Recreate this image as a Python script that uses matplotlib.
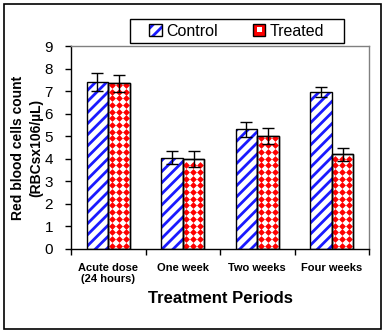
import matplotlib
matplotlib.use("Agg")
import matplotlib.pyplot as plt
import numpy as np
from matplotlib.patches import Rectangle, Patch
from matplotlib.legend_handler import HandlerPatch

categories = ["Acute dose\n(24 hours)", "One week", "Two weeks", "Four weeks"]
control = [7.42, 4.05, 5.3, 6.95]
control_err = [0.4, 0.3, 0.35, 0.22]
treated = [7.35, 4.0, 5.0, 4.2]
treated_err = [0.37, 0.35, 0.35, 0.3]
yticks = [0, 1, 2, 3, 4, 5, 6, 7, 8, 9]

plt.rcParams['font.family'] = ['Liberation Sans', 'DejaVu Sans']
plt.rcParams['hatch.linewidth'] = 2.0

W, H = 387, 334
fig = plt.figure(figsize=(W / 100, H / 100), dpi=100)
ax = fig.add_axes([71 / W, 1 - 249 / H, (369 - 71) / W, (249 - 46) / H])

x = np.arange(len(categories))
bw = 0.29

# Control bars: blue diagonal stripes
ax.bar(x - bw / 2, control, bw, color='white', edgecolor='#1a1aff', hatch='///', linewidth=0, zorder=2)
ax.bar(x - bw / 2, control, bw, color='none', edgecolor='black', linewidth=1.0, zorder=3)

# Treated bars: red diamonds on white
tbars = ax.bar(x + bw / 2, treated, bw, color='white', edgecolor='black', linewidth=1.0, zorder=2)

xs_per_px = 4.0 / (369 - 71)
ys_per_px = 9.0 / (249 - 46)
dx = 7.0 * xs_per_px
dy = 6.7 * ys_per_px
for rect, val in zip(tbars.patches, treated):
    x0 = rect.get_x()
    xs = np.arange(x0 + dx / 2, x0 + bw, dx)
    ys = np.arange(dy / 2, val, dy)
    gx, gy = np.meshgrid(xs, ys)
    sc = ax.scatter(gx.ravel(), gy.ravel(), marker='D', s=12, color='#ff0000', linewidths=0, zorder=2.5)
    sc.set_clip_path(rect)
ax.bar(x + bw / 2, treated, bw, color='none', edgecolor='black', linewidth=1.0, zorder=3)

ax.errorbar(x - bw / 2, control, yerr=control_err, fmt='none', ecolor='black', elinewidth=1, capsize=4, capthick=1, zorder=4)
ax.errorbar(x + bw / 2, treated, yerr=treated_err, fmt='none', ecolor='black', elinewidth=1, capsize=4, capthick=1, zorder=4)

ax.set_xlim(-0.5, len(categories) - 0.5)
ax.set_ylim(0, 9)
ax.set_yticks(yticks)
ax.set_yticklabels([str(v) for v in yticks], fontsize=11)
ax.tick_params(axis='y', direction='out', length=4, width=1, pad=9)

ax.set_xticks(np.arange(-0.5, len(categories), 1.0))
ax.set_xticklabels([])
ax.set_xticks(x, minor=True)
ax.set_xticklabels(categories, minor=True, fontsize=8, fontweight='bold', linespacing=1.2)
ax.tick_params(axis='x', which='major', direction='out', length=4, width=1)
ax.tick_params(axis='x', which='minor', length=0, pad=10)

for s in ['top', 'right']:
    ax.spines[s].set_color('#808080')
    ax.spines[s].set_linewidth(1)
for s in ['left', 'bottom']:
    ax.spines[s].set_color('black')
    ax.spines[s].set_linewidth(1)

ax.set_ylabel("Red blood cells count\n(RBCsx106/µL)", fontsize=10, fontweight='bold', labelpad=1, linespacing=1.4)
ax.set_xlabel("Treatment Periods", fontsize=12, fontweight='bold', labelpad=5)


class SwatchHandler(HandlerPatch):
    def __init__(self, kind):
        super().__init__()
        self.kind = kind

    def create_artists(self, legend, orig_handle, xdescent, ydescent, width, height, fontsize, trans):
        s = 9
        x0 = -xdescent + width - s
        y0 = -ydescent + (height - s) / 2
        arts = []
        if self.kind == 'c':
            p = Rectangle((x0, y0), s, s, facecolor='white', edgecolor='#1a1aff', hatch='///', linewidth=0, transform=trans)
            arts.append(p)
        else:
            p = Rectangle((x0, y0), s, s, facecolor='#ff0000', edgecolor='none', transform=trans)
            arts.append(p)
            q = Rectangle((x0 + s * 0.3, y0 + s * 0.3), s * 0.4, s * 0.4, facecolor='white', edgecolor='none', transform=trans)
            arts.append(q)
        b = Rectangle((x0, y0), s, s, facecolor='none', edgecolor='black', linewidth=1, transform=trans)
        arts.append(b)
        return arts


hc = Patch(label='Control')
ht = Patch(label='Treated')
leg = fig.legend(handles=[hc, ht], labels=['Control', 'Treated'],
                 handler_map={hc: SwatchHandler('c'), ht: SwatchHandler('t')},
                 loc='center left', bbox_to_anchor=(153 / W, 1 - 31 / H),
                 ncol=2, frameon=False, fontsize=11.5,
                 handlelength=0.56, handletextpad=0.25, columnspacing=2.44, borderpad=0,
                 borderaxespad=0)

# legend frame
fig.patches.append(Rectangle((130 / W, 1 - 43 / H), 214 / W, 24 / H, transform=fig.transFigure,
                             facecolor='none', edgecolor='black', linewidth=1.0))

fig.patches.append(Rectangle((4 / W, 1 - 329 / H), 377 / W, 325 / H, transform=fig.transFigure,
                             facecolor='none', edgecolor='black', linewidth=1.2))

fig.savefig("out.png", dpi=100)
